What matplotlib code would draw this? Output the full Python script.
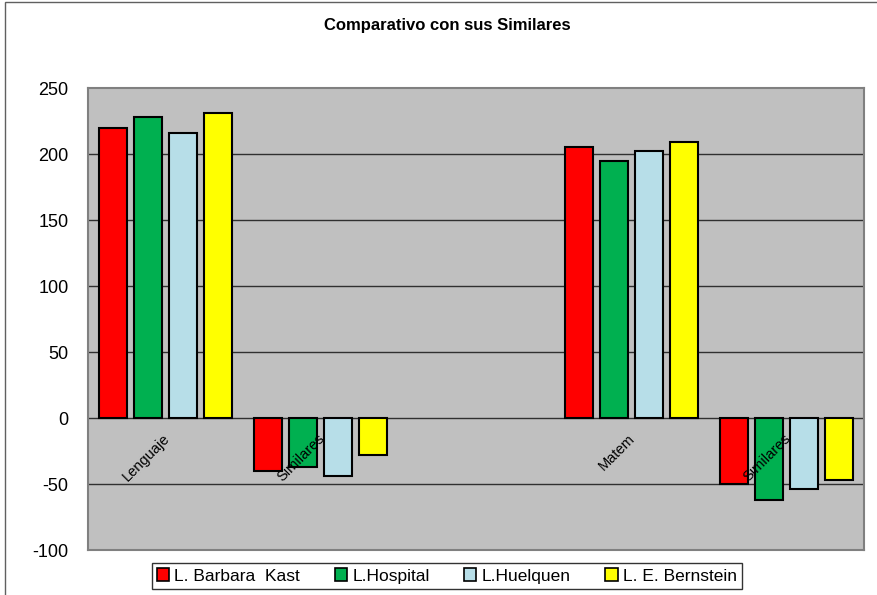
import numpy as np
import matplotlib.pyplot as plt
from matplotlib.patches import Rectangle

plt.rcParams['font.family'] = ['Liberation Sans', 'DejaVu Sans']
plt.rcParams['axes.unicode_minus'] = False

# categories (the middle slot is empty in the original)
categories = ['Lenguaje', 'Similares', '', 'Matem', 'Similares']
series_names = ['L. Barbara  Kast', 'L.Hospital', 'L.Huelquen', 'L. E. Bernstein']
barbara = [220, -40, np.nan, 205, -50]
hospital = [228, -37, np.nan, 195, -62]
huelquen = [216, -44, np.nan, 202, -54]
bernstein = [231, -28, np.nan, 209, -47]
colors = ['#FF0000', '#00B050', '#B7DEE8', '#FFFF00']

fig = plt.figure(figsize=(8.78, 5.95), dpi=100)
fig.patch.set_facecolor('white')
ax = fig.add_axes([0.1002, 0.0756, 0.8838, 0.7764])
ax.set_facecolor('#C0C0C0')

x = np.arange(len(categories))
step = 35 / 155
width = 28 / 155
for k, (vals, col, name) in enumerate(zip([barbara, hospital, huelquen, bernstein], colors, series_names)):
    ax.bar(x + (k - 1.5) * step, vals, width, color=col, edgecolor='black', linewidth=1.5,
           label=name, zorder=3)

ax.set_xlim(-0.5, len(categories) - 0.5)
ax.set_ylim(-100, 250)
ax.set_yticks(np.arange(-100, 251, 50))
ax.set_xticks([])
ax.tick_params(axis='y', length=0, pad=14, labelsize=13)
for v in range(-50, 250, 50):
    ax.axhline(v, color='#303030', linewidth=1, zorder=1)

for s in ax.spines.values():
    s.set_color('#808080')
    s.set_linewidth(1.5)

# rotated category labels sitting just under the zero line
for i, lab in enumerate(categories):
    if lab:
        ax.text(i + 0.01, -14, lab, rotation=45, ha='right', va='center',
                rotation_mode='anchor', fontsize=10.5, zorder=4)

fig.text(0.509, 0.957, 'Comparativo con sus Similares', ha='center', va='center',
         fontsize=12, fontweight='bold')

leg = fig.legend(loc='center', bbox_to_anchor=(0.509, 0.032), ncol=4, fontsize=12.5,
                 frameon=True, fancybox=False, edgecolor='black', handlelength=0.7,
                 handleheight=0.7, handletextpad=0.3, columnspacing=2.0,
                 borderpad=0.3)
leg.get_frame().set_linewidth(1)
for h in leg.legend_handles:
    h.set_linewidth(1.2)

# outer chart border
fig.patches.append(Rectangle((5 / 878, -0.1), 1.2, 1.1 - 2 / 595,
                             transform=fig.transFigure, fill=False,
                             edgecolor='#606060', linewidth=1))

fig.savefig('out.png', dpi=100)
